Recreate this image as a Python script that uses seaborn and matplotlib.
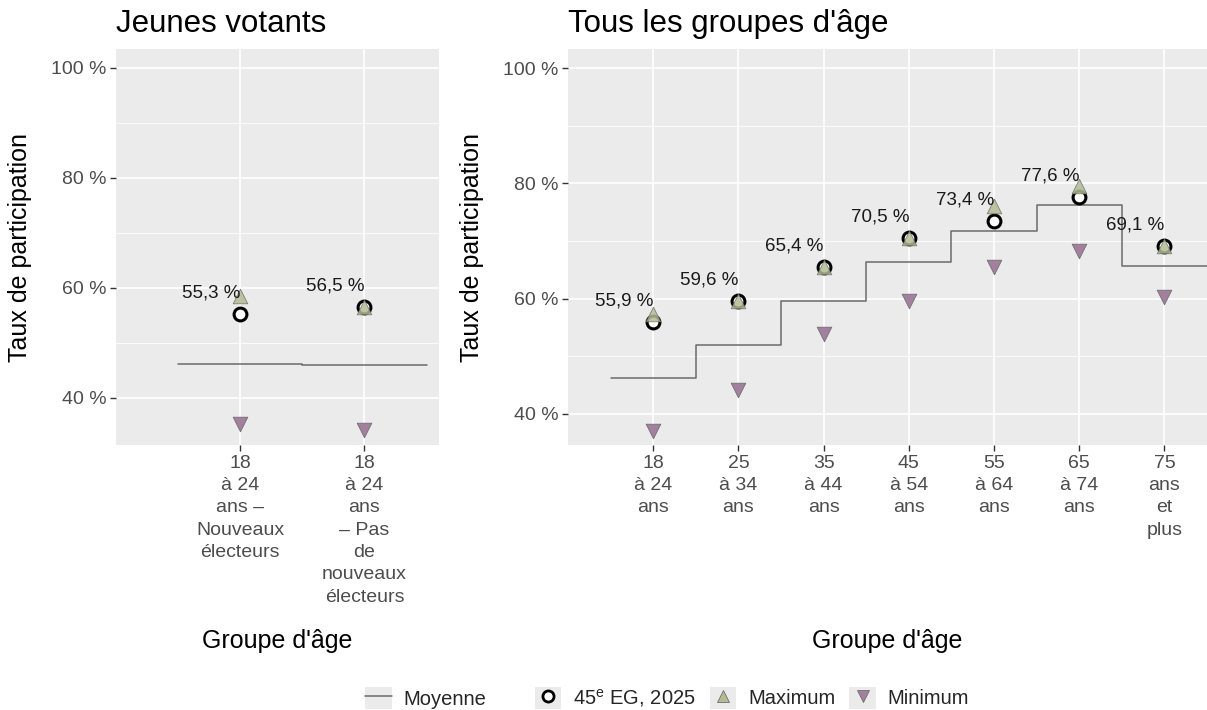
import numpy as np
import matplotlib
matplotlib.use('Agg')
import matplotlib.pyplot as plt
from matplotlib.lines import Line2D
from matplotlib.patches import Rectangle
from matplotlib.legend_handler import HandlerTuple
import seaborn as sns

# data
jeunes_groupes = ["18\nà 24\nans –\nNouveaux\nélecteurs",
                  "18\nà 24\nans\n– Pas\nde\nnouveaux\nélecteurs"]
jeunes_taux = [55.3, 56.5]
jeunes_max = [58.5, 56.5]
jeunes_min = [35.3, 34.2]
jeunes_moy = [46.1, 45.9]

ages_groupes = ["18\nà 24\nans", "25\nà 34\nans", "35\nà 44\nans", "45\nà 54\nans",
                "55\nà 64\nans", "65\nà 74\nans", "75\nans\net\nplus"]
ages_taux = [55.9, 59.6, 65.4, 70.5, 73.4, 77.6, 69.1]
ages_max = [57.4, 59.6, 65.4, 70.5, 76.0, 79.5, 69.1]
ages_min = [37.0, 44.2, 53.8, 59.6, 65.4, 68.2, 60.2]
ages_moy = [46.3, 52.0, 59.5, 66.3, 71.8, 76.2, 65.6]

col_max = '#B3BB92'
col_min = '#A3809E'
col_moy = '#6B6B6B'

sns.set_theme(style='darkgrid', rc={'axes.facecolor': '#EBEBEB', 'grid.color': 'white'})
plt.rcParams['font.family'] = ['Liberation Sans', 'DejaVu Sans']
plt.rcParams['mathtext.fontset'] = 'custom'
plt.rcParams['mathtext.rm'] = 'Liberation Sans'

fig = plt.figure(figsize=(12.07, 7.10), dpi=100)
ax1 = fig.add_axes([116 / 1207, 1 - 445 / 710, 323 / 1207, 396 / 710])
ax2 = fig.add_axes([568 / 1207, 1 - 445 / 710, 639 / 1207, 396 / 710])


def panel(ax, groupes, taux, vmax, vmin, moy, title, xlim, ylim, ylab_x):
    pos = np.arange(len(groupes))
    # mean as a step line centred on each category
    edges = np.arange(len(groupes) + 1) - 0.5
    xs = np.repeat(edges, 2)[1:-1]
    ys = np.repeat(moy, 2)
    ax.plot(xs, ys, color=col_moy, lw=1.1, zorder=2)
    sns.scatterplot(x=pos, y=taux, ax=ax, marker='o', s=85, color='white',
                    edgecolor='black', linewidth=2.2, zorder=3, legend=False)
    sns.scatterplot(x=pos, y=vmax, ax=ax, marker='^', s=110, color=col_max,
                    edgecolor='#6F6F6F', linewidth=0.6, alpha=0.85, zorder=4, legend=False)
    sns.scatterplot(x=pos, y=vmin, ax=ax, marker='v', s=110, color=col_min,
                    edgecolor='#6F6F6F', linewidth=0.6, zorder=4, legend=False)
    for x, v in zip(pos, taux):
        ax.annotate(f"{v:.1f} %".replace('.', ','), (x, v), xytext=(-29, 21),
                    textcoords='offset pixels', ha='center', va='center',
                    fontsize=13.5, color='#1A1A1A', zorder=5)
    ax.set_xlim(*xlim)
    ax.set_ylim(*ylim)
    ax.set_xticks(pos)
    ax.set_xticklabels(groupes, linespacing=1.41)
    ax.set_yticks([40, 60, 80, 100])
    ax.set_yticklabels(['40 %', '60 %', '80 %', '100 %'])
    ax.set_yticks([50, 70, 90], minor=True)
    ax.grid(which='major', color='white', lw=1.2)
    ax.grid(which='minor', axis='y', color='white', lw=0.6)
    ax.tick_params(axis='both', which='major', length=4, width=1, color='#333333',
                   labelcolor='#4D4D4D', labelsize=14, pad=3, bottom=True, left=True)
    ax.tick_params(axis='y', which='minor', length=0)
    for s in ax.spines.values():
        s.set_visible(False)
    ax.set_title(title, loc='left', fontsize=22.5, color='black', pad=12)
    ax.set_xlabel("Groupe d'âge", fontsize=18, color='black')
    ax.set_ylabel("Taux de participation", fontsize=18, color='black')
    ax.xaxis.set_label_coords(0.5, -0.465)
    ax.yaxis.set_label_coords(ylab_x, 0.5)


panel(ax1, jeunes_groupes, jeunes_taux, jeunes_max, jeunes_min, jeunes_moy,
      "Jeunes votants", (-1.0, 1.6), (31.4, 103.4), -0.26)
panel(ax2, ages_groupes, ages_taux, ages_max, ages_min, ages_moy,
      "Tous les groupes d'âge", (-1.0, 6.5), (34.6, 103.3), -0.131)

# legend with grey key boxes
key = dict(facecolor='#EBEBEB', edgecolor='none')
h_moy = (Rectangle((0, 0), 1, 1, **key), Line2D([], [], color=col_moy, lw=1.1))
h_eg = (Rectangle((0, 0), 1, 1, **key),
        Line2D([], [], ls='', marker='o', ms=8, mfc='white', mec='black', mew=2))
h_max = (Rectangle((0, 0), 1, 1, **key),
         Line2D([], [], ls='', marker='^', ms=8, mfc=col_max, mec='#6F6F6F', mew=0.6))
h_min = (Rectangle((0, 0), 1, 1, **key),
         Line2D([], [], ls='', marker='v', ms=8, mfc=col_min, mec='#6F6F6F', mew=0.6))

leg_kw = dict(frameon=False, fontsize=14.5, handlelength=1.3, handleheight=1.3,
              handletextpad=0.6, columnspacing=0.7, borderaxespad=0,
              handler_map={tuple: HandlerTuple(ndivide=1)})
fig.legend([h_moy], ['Moyenne'], loc='center', bbox_to_anchor=(426 / 1207, 1 - 698 / 710),
           ncol=1, **leg_kw)
fig.legend([h_eg, h_max, h_min], ['45$^{\\mathrm{e}}$ EG, 2025', 'Maximum', 'Minimum'],
           loc='center', bbox_to_anchor=(752 / 1207, 1 - 698 / 710), ncol=3, **leg_kw)

fig.savefig('out.png', dpi=100, facecolor='white')
